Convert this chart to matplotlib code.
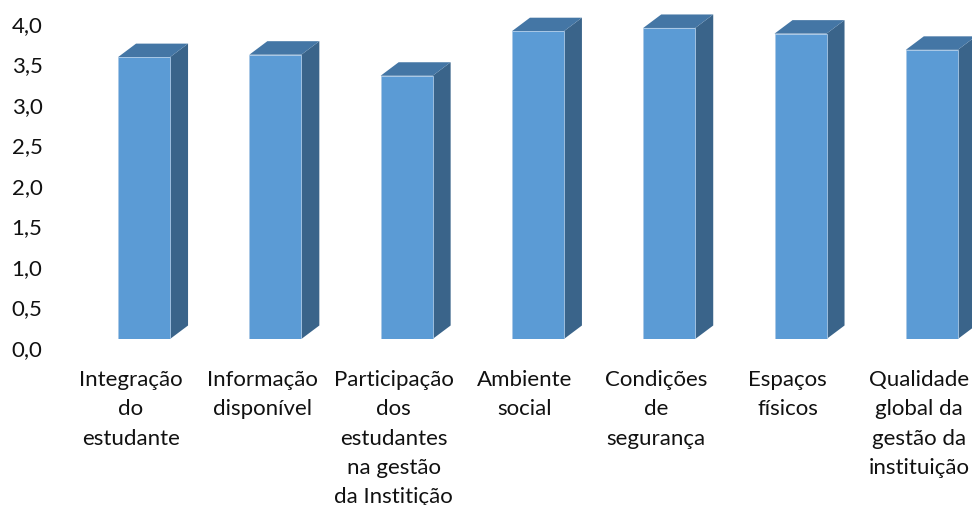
#coding:utf-8
import matplotlib
matplotlib.use('Agg')
import matplotlib.pyplot as plt
from matplotlib.transforms import ScaledTranslation

categories = ['Integração\ndo\nestudante', 'Informação\ndisponível',
              'Participação\ndos\nestudantes\nna gestão\nda Institição', 'Ambiente\nsocial',
              'Condições\nde\nsegurança', 'Espaços\nfísicos',
              'Qualidade\nglobal da\ngestão da\ninstituição']
values = [3.48, 3.51, 3.25, 3.80, 3.84, 3.77, 3.57]
yticks = [0.0, 0.5, 1.0, 1.5, 2.0, 2.5, 3.0, 3.5, 4.0]
ylabels = ['0,0', '0,5', '1,0', '1,5', '2,0', '2,5', '3,0', '3,5', '4,0']

plt.rcParams['font.family'] = ['Lato', 'DejaVu Sans']

W, H = 972, 506
fig = plt.figure(figsize=(W/100, H/100), dpi=100)
ax = fig.add_axes([78.4/W, (H-340)/H, (W-78.4)/W, 340/H])
ax.set_xlim(-0.5, 6.306)
ax.set_ylim(0, 340/81.0)

# depth of the fake 3d, in data units
barw = 52/131.3
dx = 18/131.3
dy = 13.5/81.0
front = '#5B9BD5'
side = '#3A648A'
top = '#4476A5'

for i, v in enumerate(values):
    l = i - barw/2
    r = i + barw/2
    ax.fill([r, r+dx, r+dx, r], [0, dy, v+dy, v], color=side, lw=0)
    ax.fill([l, l+dx, r+dx, r], [v, v+dy, v+dy, v], color=top, lw=0)
ax.bar(range(len(values)), values, width=barw, color=front, edgecolor='#A9C8E6', linewidth=0.6)

ax.set_xticks(range(len(categories)))
ax.set_xticklabels(categories, fontsize=16, linespacing=1.57, va='top')
ax.set_yticks(yticks)
ax.set_yticklabels(ylabels, fontsize=16)
ax.tick_params(length=0, colors='#111111')
for s in ax.spines.values():
    s.set_visible(False)

# labels in the original sit off the bars because of the 3d floor
off_x = ScaledTranslation(-13/100, -25.5/100, fig.dpi_scale_trans)
for t in ax.get_xticklabels():
    t.set_transform(t.get_transform() + off_x)
off_y = ScaledTranslation(-31/100, -8/100, fig.dpi_scale_trans)
for t in ax.get_yticklabels():
    t.set_transform(t.get_transform() + off_y)

fig.savefig('out.png', dpi=100)
